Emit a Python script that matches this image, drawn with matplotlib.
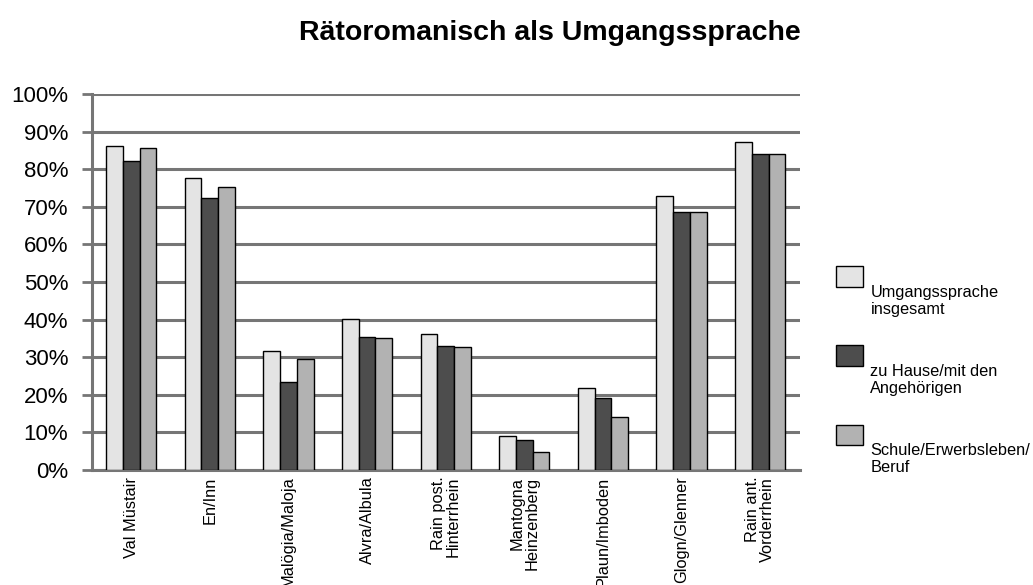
import matplotlib.pyplot as plt
import numpy as np
from matplotlib.transforms import ScaledTranslation

plt.rcParams['font.family'] = ['Liberation Sans', 'DejaVu Sans']

regions = ["Val Müstair", "En/Inn", "Malögia/Maloja", "Alvra/Albula",
           "Rain post.\nHinterrhein", "Mantogna\nHeinzenberg", "Plaun/Imboden",
           "Glogn/Glenner", "Rain ant.\nVorderrhein"]
series_names = ["Umgangssprache\ninsgesamt", "zu Hause/mit den\nAngehörigen",
                "Schule/Erwerbsleben/\nBeruf"]
total = [86.3, 77.8, 31.5, 40.1, 36.2, 9.1, 21.9, 73.0, 87.2]
home = [82.3, 72.4, 23.3, 35.4, 33.0, 8.0, 19.2, 68.5, 84.0]
work = [85.6, 75.2, 29.6, 35.0, 32.6, 4.6, 14.0, 68.5, 84.0]
colors = ["#e4e4e4", "#4d4d4d", "#b2b2b2"]

fig = plt.figure(figsize=(10.33, 5.85), dpi=100)
ax = fig.add_axes([0.089, 0.197, 0.685, 0.642])

grey = "#767676"
x = np.arange(len(regions))
w = 0.213
for i, vals in enumerate([total, home, work]):
    ax.bar(x + (i - 1) * w, vals, w, color=colors[i], edgecolor="black",
           linewidth=1, label=series_names[i], zorder=3)

ax.set_xlim(-0.5, len(regions) - 0.5)
ax.set_ylim(0, 100)
ax.set_yticks(range(0, 101, 10))
ax.set_yticklabels([f"{v}%" for v in range(0, 101, 10)], fontsize=16)
ax.yaxis.grid(True, color=grey, linewidth=2.2, zorder=0)
ax.set_axisbelow(True)
ax.set_xticks(x)
ax.set_xticklabels(regions, rotation=90, fontsize=11.8, va="top", ha="center",
                   multialignment="right", linespacing=1.0)
ax.tick_params(axis="x", length=0, pad=5)
ax.tick_params(axis="y", length=7, width=2, color=grey, pad=10)
for s in ["top", "right"]:
    ax.spines[s].set_visible(False)
for s in ["left", "bottom"]:
    ax.spines[s].set_color(grey)
    ax.spines[s].set_linewidth(2.2)

fig.text(0.532, 0.944, "Rätoromanisch als Umgangssprache", fontsize=20.5,
         fontweight="bold", ha="center", va="center")

leg = fig.legend(loc="center left", bbox_to_anchor=(0.795, 0.393), frameon=False,
                 fontsize=11.8, handlelength=1.65, handleheight=1.55, labelspacing=2.85,
                 handletextpad=0.45)
for t in leg.get_texts():
    t.set_transform(t.get_transform() + ScaledTranslation(0, -0.25, fig.dpi_scale_trans))

fig.savefig("out.png", dpi=100)
